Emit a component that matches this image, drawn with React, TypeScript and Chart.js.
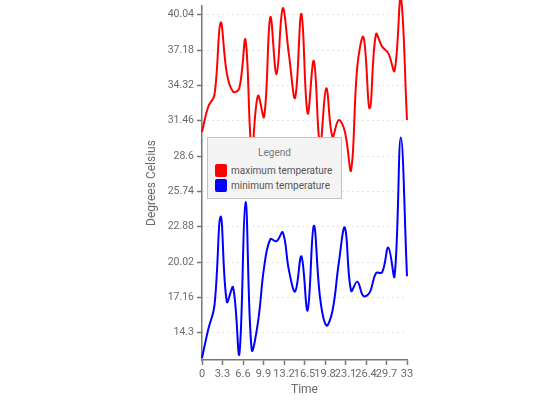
import React, { useEffect, useRef } from "react";
import { Chart, registerables } from "chart.js";

Chart.register(...registerables);

const times = [0, 1, 2, 3, 4, 5, 6, 7, 8, 9, 10, 11, 12, 13, 14, 15, 16, 17, 18, 19, 20, 21, 22, 23, 24, 25, 26, 27, 28, 29, 30, 31, 32, 33];
const maxTemperature = [30.57, 32.59, 33.54, 39.39, 35.29, 33.81, 34.08, 37.99, 29.1, 33.48, 31.78, 39.83, 35.24, 40.56, 36.78, 33.32, 40.1, 32.06, 36.29, 29.5, 34.08, 30.16, 31.51, 30.57, 27.47, 35.83, 38.21, 32.46, 38.45, 37.45, 36.91, 35.51, 41.4, 31.51];
const minTemperature = [12.26, 14.57, 16.48, 23.7, 16.81, 17.98, 12.53, 24.87, 12.94, 15.12, 19.61, 21.87, 21.71, 22.42, 19.34, 17.65, 20.48, 16.12, 22.96, 17.16, 14.9, 16.07, 19.88, 22.8, 17.7, 18.44, 17.27, 17.57, 19.12, 19.2, 21.19, 18.88, 30.1, 18.88];
const xTickValues = [0, 3.3, 6.6, 9.9, 13.2, 16.5, 19.8, 23.1, 26.4, 29.7, 33];
const yTickValues = [14.3, 17.16, 20.02, 22.88, 25.74, 28.6, 31.46, 34.32, 37.18, 40.04];
const seriesNames = ["maximum temperature", "minimum temperature"];
const seriesColors = ["#ff0000", "#0000ff"];
const xTitle = "Time";
const yTitle = "Degrees Celsius";
const legendTitle = "Legend";

const FONT = "Roboto, 'Liberation Sans', sans-serif";
const fmt = (v: number) => String(Math.round(v * 100) / 100);

export default function App() {
  const canvasRef = useRef<HTMLCanvasElement | null>(null);

  useEffect(() => {
    const canvas = canvasRef.current;
    if (!canvas) return;
    const seriesValues = [maxTemperature, minTemperature];
    const chart = new Chart(canvas, {
      type: "line",
      data: {
        datasets: seriesNames.map((name, i) => ({
          label: name,
          data: times.map((t, j) => ({ x: t, y: seriesValues[i][j] })),
          borderColor: seriesColors[i],
          backgroundColor: seriesColors[i],
          borderWidth: 2,
          pointRadius: 0,
          tension: 0.4,
          fill: false,
          clip: false as any,
        })),
      },
      options: {
        responsive: false,
        animation: false,
        devicePixelRatio: 1,
        layout: { padding: { left: 140, right: 143, top: 6, bottom: 0 } },
        plugins: {
          legend: { display: false },
          tooltip: { enabled: false },
        },
        scales: {
          x: {
            type: "linear",
            min: 0,
            max: 33,
            afterBuildTicks: (scale: any) => {
              scale.ticks = xTickValues.map((v) => ({ value: v }));
            },
            afterFit: (scale: any) => {
              scale.height = 40;
              scale.paddingLeft = 0;
              scale.paddingRight = 0;
            },
            ticks: {
              autoSkip: false,
              maxRotation: 0,
              minRotation: 0,
              padding: 3,
              color: "#6b6b6b",
              font: { family: FONT, size: 11 },
              callback: (v: any) => fmt(Number(v)),
            },
            grid: {
              drawOnChartArea: false,
              drawTicks: true,
              tickLength: 5,
              tickColor: "#777777",
              tickWidth: 1.5,
            },
            border: { display: true, color: "#777777", width: 1.5 },
            title: {
              display: true,
              text: xTitle,
              color: "#6b6b6b",
              font: { family: FONT, size: 12 },
              padding: { top: 2, bottom: 3 },
            },
          },
          y: {
            type: "linear",
            min: 12.1,
            max: 40.74,
            afterBuildTicks: (scale: any) => {
              scale.ticks = yTickValues.map((v) => ({ value: v }));
            },
            afterFit: (scale: any) => {
              scale.width = 62;
              scale.paddingTop = 0;
              scale.paddingBottom = 0;
            },
            ticks: {
              padding: 3,
              color: "#6b6b6b",
              font: { family: FONT, size: 10.5 },
              callback: (v: any) => fmt(Number(v)),
            },
            grid: {
              drawOnChartArea: true,
              drawTicks: true,
              tickLength: 5,
              color: "#c8c8c8",
              lineWidth: 1,
              tickColor: "#777777",
              tickWidth: 1.5,
              tickBorderDash: [],
            } as any,
            border: { display: true, color: "#777777", width: 1.5, dash: [1, 4] } as any,
            title: {
              display: true,
              text: yTitle,
              color: "#6b6b6b",
              font: { family: FONT, size: 12 },
              padding: { top: 5, bottom: 2 },
            },
          },
        },
      },
    });
    return () => chart.destroy();
  }, []);

  return (
    <div style={{ position: "absolute", left: 0, top: 0, width: 550, height: 400, background: "#ffffff" }}>
      <canvas ref={canvasRef} width={550} height={400} style={{ width: 550, height: 400, display: "block" }} />
      <div
        style={{
          position: "absolute",
          left: 207,
          top: 137,
          width: 133,
          height: 60,
          background: "#f4f4f4",
          border: "1px solid #c4c4c4",
          fontFamily: FONT,
          boxSizing: "content-box",
        }}
      >
        <div style={{ position: "absolute", left: 0, right: 0, top: 9, textAlign: "center", fontSize: 10, color: "#7a7a7a", lineHeight: "12px" }}>
          {legendTitle}
        </div>
        {seriesNames.map((name, i) => (
          <div key={name} style={{ position: "absolute", left: 7, top: 26 + i * 15, height: 13, display: "flex", alignItems: "center" }}>
            <div style={{ width: 12, height: 13, borderRadius: 2, background: seriesColors[i], marginRight: 4 }} />
            <span style={{ fontSize: 10, color: "#555555", whiteSpace: "nowrap", lineHeight: "13px" }}>{name}</span>
          </div>
        ))}
      </div>
    </div>
  );
}
